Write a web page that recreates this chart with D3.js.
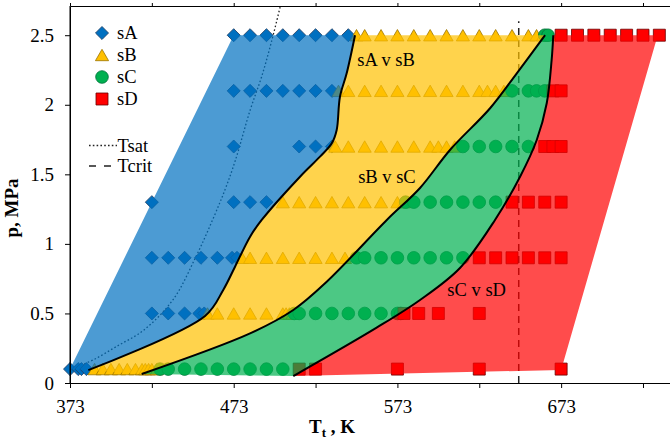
<!DOCTYPE html>
<html>
<head>
<meta charset="utf-8">
<script src="https://cdn.jsdelivr.net/npm/d3@7"></script>
<style>
body { margin: 0; background: #fff; }
svg { display: block; font-family: "Liberation Serif", "Times New Roman", serif; }
</style>
</head>
<body>
<svg width="670" height="441"></svg>
<script>
// markers: [T (K), p (MPa)]
const sA = [
  [373,0.1],[378,0.1],[380,0.1],[383,0.1],
  [423,0.5],[433,0.5],[443,0.5],[452,0.5],[455,0.5],
  [423,0.9],[433,0.9],[443,0.9],[453,0.9],[463,0.9],[472,0.9],[475,0.9],
  [423,1.3],[473,1.3],[483,1.3],[493,1.3],
  [473,1.7],[513,1.7],[523,1.7],[533,1.7],
  [473,2.1],[483,2.1],[493,2.1],[503,2.1],[513,2.1],[523,2.1],[533,2.1],
  [473,2.5],[483,2.5],[493,2.5],[503,2.5],[513,2.5],[523,2.5],[533,2.5],[543,2.5]
];
const sB = [
  [388,0.1],[393,0.1],[398,0.1],[403,0.1],[408,0.1],[413,0.1],[417,0.1],[419,0.1],[421,0.1],[423,0.1],[426,0.1],
  [457,0.5],[463,0.5],[473,0.5],[483,0.5],[493,0.5],[503,0.5],[505,0.5],[507,0.5],[509,0.5],
  [478,0.9],[483,0.9],[493,0.9],[503,0.9],[513,0.9],[523,0.9],[533,0.9],[541,0.9],
  [503,1.3],[513,1.3],[523,1.3],[533,1.3],[543,1.3],[553,1.3],[563,1.3],[573,1.3],[577,1.3],
  [535,1.7],[543,1.7],[553,1.7],[563,1.7],[573,1.7],[583,1.7],[593,1.7],[598,1.7],[603,1.7],[608,1.7],
  [537,2.1],[543,2.1],[553,2.1],[563,2.1],[573,2.1],[583,2.1],[593,2.1],[603,2.1],[613,2.1],[623,2.1],[628,2.1],[633,2.1],[638,2.1],
  [548,2.5],[553,2.5],[563,2.5],[573,2.5],[583,2.5],[593,2.5],[603,2.5],[613,2.5],[623,2.5],[633,2.5],[643,2.5],[653,2.5],[658,2.5],[662,2.5],[666,2.5]
];
const sC = [
  [428,0.1],[433,0.1],[443,0.1],[453,0.1],[463,0.1],[473,0.1],[483,0.1],[493,0.1],[503,0.1],
  [510,0.5],[513,0.5],[523,0.5],[533,0.5],[543,0.5],[553,0.5],[563,0.5],[573,0.5],[575,0.5],
  [548,0.9],[553,0.9],[563,0.9],[573,0.9],[583,0.9],[593,0.9],[603,0.9],[613,0.9],
  [578,1.3],[583,1.3],[593,1.3],[603,1.3],[613,1.3],[623,1.3],[633,1.3],
  [613,1.7],[623,1.7],[633,1.7],[643,1.7],[653,1.7],
  [643,2.1],[653,2.1],[658,2.1],[663,2.1],
  [663,2.5],[665,2.5]
];
const sD = [
  [513,0.1],[523,0.1],[573,0.1],[623,0.1],[673,0.1],
  [577,0.5],[586,0.5],[598,0.5],[623,0.5],
  [623,0.9],[633,0.9],[643,0.9],[653,0.9],[663,0.9],[673,0.9],
  [643,1.3],[653,1.3],[663,1.3],[673,1.3],
  [663,1.7],[668,1.7],[673,1.7],
  [668,2.1],[673,2.1],
  [673,2.5],[683,2.5],[693,2.5],[703,2.5],[713,2.5],[723,2.5],[733,2.5]
];

// region boundaries
const sAvsB = [[384.2,0.093],[455.5,0.482],[466.6,0.669],[473.8,0.836],[483,1.052],[490.1,1.172],[513.5,1.483],
  [525.7,1.627],[532.9,1.723],[535.9,1.819],[537.9,2.058],[542,2.226],[547.1,2.5]];
const sBvsC = [[416.8,0.065],[483,0.357],[509.4,0.525],[529.8,0.728],[566.5,1.172],[586.8,1.402],
  [605.1,1.675],[629.6,1.975],[645.9,2.226],[663.2,2.5]];
const sCvsD = [[509.4,0.05],[560.3,0.398],[586.8,0.597],[611.2,0.827],[632.6,1.172],[647.9,1.483],[658.1,1.747],
  [664.2,2.011],[667.2,2.322],[668.2,2.5]];
const leftEdge = [[373,0.1],[473,2.5]];
const rightEdge = [[732,2.5],[673,0.094]];

// saturation and critical temperature
const tsat = [[373,0.1],[377,0.117],[387,0.165],[401,0.26],[418,0.38],[436,0.6],[450,0.91],[460,1.17],
  [467.7,1.39],[474,1.6],[483,1.96],[490,2.2],[496,2.45],[501.5,2.71]];
const tcrit = 647.1;
const tcritP = [0, 2.6];

const regionLabels = [["sA v sB", 548.5, 2.28], ["sB v sC", 549, 1.44], ["sC v sD", 603.5, 0.622]];

const xTicks = [373, 423, 473, 523, 573, 623, 673, 723];
const xLabelled = [373, 473, 573, 673];
const yTicks = [0, 0.5, 1, 1.5, 2, 2.5];

const series = [
  { name: "sA", data: sA, type: d3.symbolSquare, size: 85, rot: 45, dy: 0, fill: "#0070c0", stroke: "#1f3f66" },
  { name: "sB", data: sB, type: d3.symbolTriangle, size: 75, rot: 0, dy: 1.9, fill: "#ffc000", stroke: "#9a7400" },
  { name: "sC", data: sC, type: d3.symbolCircle, size: 125, rot: 0, dy: 0, fill: "#00b050", stroke: "#00703a" },
  { name: "sD", data: sD, type: d3.symbolSquare, size: 144, rot: 0, dy: 0, fill: "#ff0000", stroke: "#6a0000" }
];

const svg = d3.select("svg");
const x = d3.scaleLinear().domain([373, 739.5]).range([70, 670]);
const y = d3.scaleLinear().domain([0, 2.71]).range([383, 6]);

const line = d3.line().x(d => x(d[0])).y(d => y(d[1]));
const curve = d3.line().x(d => x(d[0])).y(d => y(d[1])).curve(d3.curveCatmullRom.alpha(0.5));
const down = pts => curve(pts.slice().reverse()).replace(/^M/, "L");

// reference lines (under the fills)
svg.append("path")
  .attr("d", curve(tsat))
  .attr("fill", "none").attr("stroke", "#222").attr("stroke-width", 1.3)
  .attr("stroke-dasharray", "1.6,2.2");

svg.append("path")
  .attr("d", line(tcritP.map(p => [tcrit, p])))
  .attr("fill", "none").attr("stroke", "#222").attr("stroke-width", 1.5)
  .attr("stroke-dasharray", "7,5");

// markers
series.forEach(s => {
  svg.append("g").selectAll("path")
    .data(s.data)
    .join("path")
    .attr("d", d3.symbol().type(s.type).size(s.size))
    .attr("transform", d => "translate(" + x(d[0]) + "," + (y(d[1]) + s.dy) + ") rotate(" + s.rot + ")")
    .attr("fill", s.fill)
    .attr("stroke", s.stroke)
    .attr("stroke-width", 0.8);
});

// translucent regions on top
const regions = [
  { d: line(leftEdge) + down(sAvsB) + "Z", fill: "#0070c0" },
  { d: curve(sAvsB) + down(sBvsC) + "Z", fill: "#ffc000" },
  { d: curve(sBvsC) + down(sCvsD) + "Z", fill: "#00b050" },
  { d: curve(sCvsD) + line(rightEdge).replace(/^M/, "L") + "Z", fill: "#ff0000" }
];
svg.append("g").selectAll("path")
  .data(regions)
  .join("path")
  .attr("d", d => d.d)
  .attr("fill", d => d.fill)
  .attr("fill-opacity", 0.7);

// boundaries
svg.append("g").selectAll("path")
  .data([sAvsB, sBvsC, sCvsD])
  .join("path")
  .attr("d", d => curve(d))
  .attr("fill", "none").attr("stroke", "#000").attr("stroke-width", 2);

svg.append("g").selectAll("text")
  .data(regionLabels)
  .join("text")
  .attr("x", d => x(d[1]))
  .attr("y", d => y(d[2]))
  .attr("font-size", 18.5)
  .text(d => d[0]);

// axes
const gx = svg.append("g").attr("transform", "translate(0,383)")
  .call(d3.axisBottom(x).tickValues(xTicks).tickSize(5).tickSizeOuter(0).tickPadding(11.5)
    .tickFormat(d => xLabelled.includes(d) ? d : ""));
const gt = svg.append("g").attr("transform", "translate(0,6)")
  .call(d3.axisTop(x).tickValues(xTicks).tickSize(3).tickSizeOuter(0).tickFormat(""));
const gy = svg.append("g").attr("transform", "translate(70,0)")
  .call(d3.axisLeft(y).tickValues(yTicks).tickSize(5).tickSizeOuter(0).tickPadding(11)
    .tickFormat(d => String(d)));
[gx, gt, gy].forEach(g => {
  g.selectAll("path, line").attr("stroke", "#000").attr("stroke-width", 1);
  g.selectAll("text").attr("font-family", "Liberation Serif, Times New Roman, serif")
    .attr("font-size", 19).attr("fill", "#000");
});
svg.append("line").attr("x1", 70).attr("x2", 70).attr("y1", 6).attr("y2", 383)
  .attr("stroke", "#000");

// axis titles
const xt = svg.append("text").attr("x", 309).attr("y", 433)
  .attr("font-size", 19).attr("font-weight", "bold");
xt.append("tspan").text("T");
xt.append("tspan").attr("font-size", 13).attr("dy", 4).text("t");
xt.append("tspan").attr("dy", -4).text(" , K");

svg.append("text")
  .attr("transform", "translate(18,208) rotate(-90)")
  .attr("text-anchor", "middle")
  .attr("font-size", 19).attr("font-weight", "bold")
  .text("p, MPa");

// legend
const legend = svg.append("g");
const legY = [33, 55, 77, 99];
series.forEach((s, i) => {
  legend.append("path")
    .attr("d", d3.symbol().type(s.type).size(s.size)())
    .attr("transform", "translate(102," + (legY[i] + s.dy) + ") rotate(" + s.rot + ")")
    .attr("fill", s.fill).attr("stroke", s.stroke).attr("stroke-width", 0.8);
  legend.append("text").attr("x", 117).attr("y", legY[i]).attr("dy", "0.35em")
    .attr("font-size", 18.5).text(s.name);
});
legend.append("line").attr("x1", 89).attr("x2", 117).attr("y1", 145.5).attr("y2", 145.5)
  .attr("stroke", "#222").attr("stroke-width", 1.3).attr("stroke-dasharray", "1.6,2.2");
legend.append("text").attr("x", 117.5).attr("y", 145.5).attr("dy", "0.35em")
  .attr("font-size", 18.5).text("Tsat");
legend.append("line").attr("x1", 89).attr("x2", 111).attr("y1", 166).attr("y2", 166)
  .attr("stroke", "#222").attr("stroke-width", 1.5).attr("stroke-dasharray", "7,8");
legend.append("text").attr("x", 117.5).attr("y", 166).attr("dy", "0.35em")
  .attr("font-size", 18.5).text("Tcrit");
</script>
</body>
</html>
